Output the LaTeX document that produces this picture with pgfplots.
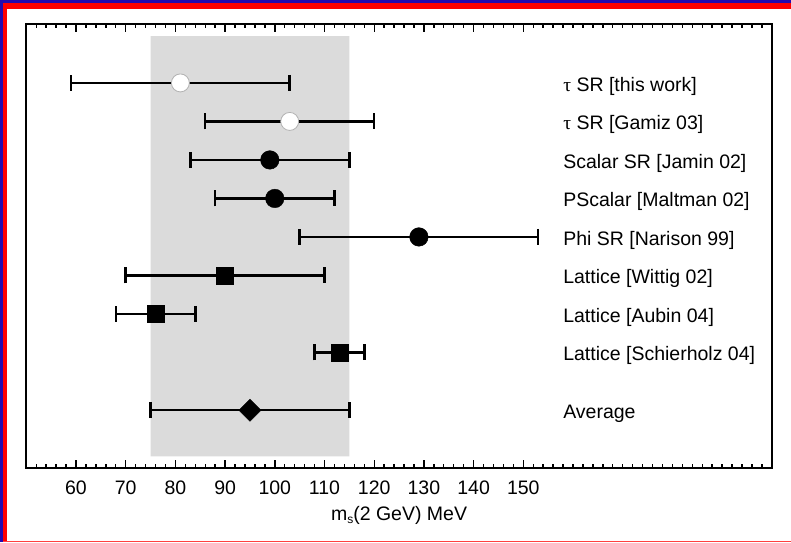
\documentclass[border=0pt]{standalone}
\usepackage{pgfplots}
\pgfplotsset{compat=1.18}
\usepackage{fontspec}
\setmainfont{Liberation Sans}
\definecolor{frameblue}{RGB}{35,10,175}
\definecolor{framered}{RGB}{255,0,0}
\definecolor{bandgray}{RGB}{219,219,219}
\newcommand{\bigf}{\fontsize{19.5}{23}\selectfont}
\begin{document}
\begin{tikzpicture}[x=1pt,y=1pt]
\useasboundingbox (0,0) rectangle (791,542);
\fill[white] (0,0) rectangle (791,542);
\begin{axis}[
  at={(26.3pt,74pt)}, anchor=south west,
  scale only axis, width=745.5pt, height=444pt,
  xmin=50, xmax=200, ymin=-1, ymax=10.53,
  clip=false,
  axis line style={line width=1.8pt},
  xtick={60,70,...,150},
  minor xtick={50,52,...,200},
  major tick length=8pt, minor tick length=4pt,
  every tick/.style={black, line width=1.4pt},
  xtick pos=both, tick align=inside,
  ytick=\empty,
  /pgf/number format/assume math mode=true,
  tick label style={font=\bigf},
  xticklabel style={anchor=base, yshift=-26pt},
  xlabel={m\raisebox{-0.35ex}{\fontsize{12}{12}\selectfont s}(2 GeV) MeV},
  xlabel style={font=\bigf, anchor=base, at={(axis description cs:0.5,0)}, yshift=-52pt},
  error bars/error bar style={line width=2.5pt, black},
  error bars/error mark options={line width=2.5pt, black, mark size=8pt, rotate=90},
]
\addplot[fill=bandgray, draw=none] coordinates {(75,-0.697) (115,-0.697) (115,10.215) (75,10.215)} \closedcycle;
% open circles
\addplot[only marks, mark=*, mark size=9pt, mark options={fill=white, draw=gray!60, line width=0.8pt},
  error bars/.cd, x dir=both, x explicit]
  coordinates {(81,9) +- (22,0) (103,8) +- (17,0)};
% filled circles
\addplot[only marks, mark=*, mark size=9.3pt, mark options={fill=black, draw=black},
  error bars/.cd, x dir=both, x explicit]
  coordinates {(99,7) +- (16,0) (100,6) +- (12,0) (129,5) +- (24,0)};
% squares
\addplot[only marks, mark=square*, mark size=8.5pt, mark options={fill=black, draw=black},
  error bars/.cd, x dir=both, x explicit]
  coordinates {(90,4) +- (20,0) (76,3) +- (8,0) (113,2) +- (5,0)};
% diamond
\addplot[only marks, mark=square*, mark size=7.8pt, mark options={fill=black, draw=black, rotate=45},
  error bars/.cd, x dir=both, x explicit]
  coordinates {(95,0.5) +- (20,0)};
\begin{scope}[every node/.style={font=\bigf, anchor=base west, yshift=-8.5pt, inner sep=0pt}]
\node at (axis cs:158,9) {{\fontspec{Liberation Serif}τ} SR [this work]};
\node at (axis cs:158,8) {{\fontspec{Liberation Serif}τ} SR [Gamiz 03]};
\node at (axis cs:158,7) {Scalar SR [Jamin 02]};
\node at (axis cs:158,6) {PScalar [Maltman 02]};
\node at (axis cs:158,5) {Phi SR [Narison 99]};
\node at (axis cs:158,4) {Lattice [Wittig 02]};
\node at (axis cs:158,3) {Lattice [Aubin 04]};
\node at (axis cs:158,2) {Lattice [Schierholz 04]};
\node at (axis cs:158,0.5) {Average};
\end{scope}
\end{axis}
\fill[framered] (0,0) rectangle (7.3,542);
\fill[framered] (0,533) rectangle (791,542);
\fill[frameblue] (0,539) rectangle (791,542);
\fill[frameblue] (0,0) rectangle (2.7,542);
\fill[framered!75!white] (2.7,0) rectangle (791,1.3);
\end{tikzpicture}
\end{document}
